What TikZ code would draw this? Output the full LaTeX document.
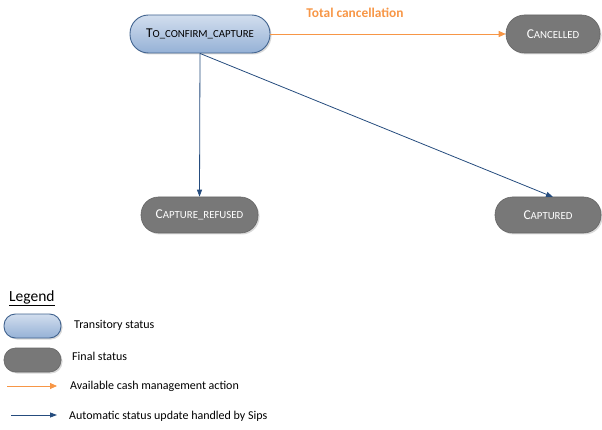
\documentclass[tikz,border=0pt]{standalone}
\usepackage{fontspec}
\setmainfont{Carlito}
\usetikzlibrary{arrows.meta,shadows}
\definecolor{trborder}{HTML}{41638F}
\definecolor{trtop}{HTML}{D2DEEE}
\definecolor{trbot}{HTML}{95B1D6}
\definecolor{finfill}{HTML}{787878}
\definecolor{finborder}{HTML}{666666}
\definecolor{orangec}{HTML}{F79646}
\definecolor{bluec}{HTML}{254C7E}
\newcommand\scx[2]{{\fontsize{13.5}{14}\selectfont #1}{\fontsize{10.8}{14}\selectfont #2}}
\tikzset{
  pill/.style={rectangle, rounded corners=#1, inner sep=0pt,
     drop shadow={shadow xshift=1.5pt, shadow yshift=-1.5pt, opacity=0.3}},
  transit/.style={pill=#1, draw=trborder, line width=0.9pt, top color=trtop, bottom color=trbot, text=black},
  final/.style={pill=#1, draw=finborder, line width=0.6pt, fill=finfill, text=white},
  oarrow/.style={draw=orangec, line width=0.8pt, -{Triangle[length=7pt,width=6pt]}},
  barrow/.style={draw=bluec, line width=0.8pt, -{Triangle[length=7pt,width=5pt]}},
  lgtext/.style={anchor=west, font=\fontsize{12}{14}\selectfont, inner sep=0pt},
}
\begin{document}
\begin{tikzpicture}[x=1pt,y=-1pt]
\useasboundingbox (0,0) rectangle (602,430);
\node[transit=18.5pt, minimum width=140pt, minimum height=38pt] (tcc) at (200,34) {\scx{T}{O\_CONFIRM\_CAPTURE}};
\node[final=18.5pt, minimum width=94pt, minimum height=38pt] (can) at (553,34) {\scx{C}{ANCELLED}};
\node[final=17.5pt, minimum width=117pt, minimum height=36pt] (ref) at (199.5,215) {\scx{C}{APTURE\_REFUSED}};
\node[final=17.5pt, minimum width=106pt, minimum height=36pt] (cap) at (548,215) {\scx{C}{APTURED}};
\coordinate (capt) at (553,197);
\draw[oarrow] (tcc.east) -- (can.west);
\node[text=orangec, font=\bfseries\fontsize{13.4}{15}\selectfont] (tl) at (355,13) {Total cancellation};
\draw[barrow] (tcc.south) -- (ref.north);
\draw[barrow] (tcc.south) -- (capt);
% legend
\node[anchor=west, inner sep=0pt, font=\fontsize{15.5}{17}\selectfont] (lg) at (9,298) {\underline{Legend}};
\node[transit=11.5pt, minimum width=57pt, minimum height=24pt] (lt) at (32.5,326) {};
\node[final=11.5pt, minimum width=57pt, minimum height=24pt] (lf) at (32.5,360) {};
\node[lgtext] (t1) at (74,325) {Transitory status};
\node[lgtext] (t2) at (72,356) {Final status};
\coordinate (o1) at (7,386);
\coordinate (o2) at (57,386);
\coordinate (b1) at (11,415);
\coordinate (b2) at (57,415);
\draw[oarrow] (o1) -- (o2);
\draw[barrow] (b1) -- (b2);
\node[lgtext] (t3) at (70,386) {Available cash management action};
\node[lgtext] (t4) at (69,416) {Automatic status update handled by Sips};
\end{tikzpicture}
\end{document}
